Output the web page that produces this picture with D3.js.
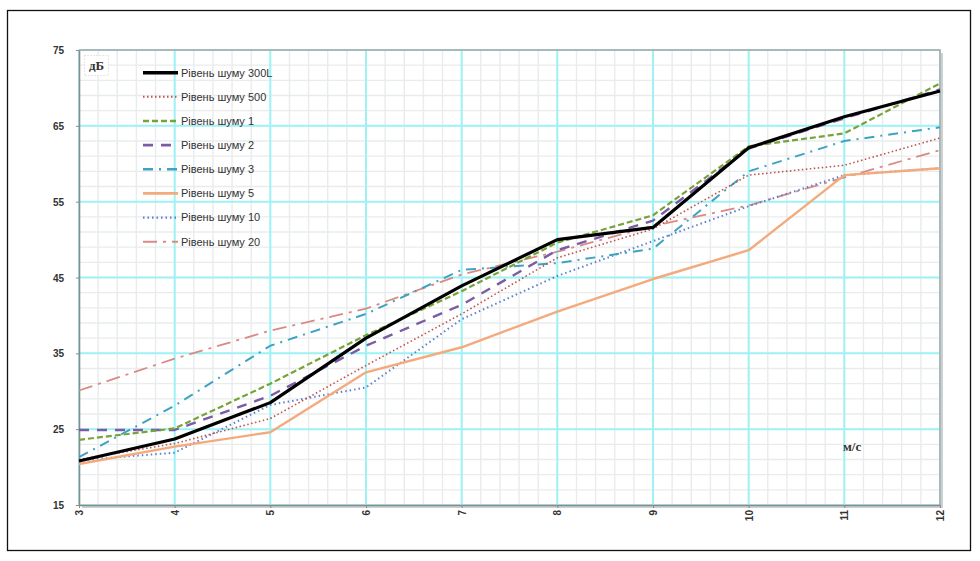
<!DOCTYPE html>
<html>
<head>
<meta charset="utf-8">
<script src="https://cdn.jsdelivr.net/npm/d3@7/dist/d3.min.js"></script>
<style>
  html, body { margin: 0; padding: 0; background: #fff; }
  svg { display: block; }
</style>
</head>
<body>
<svg id="chart" width="980" height="561"></svg>
<script>
// Wind speed, m/s
const speeds = [3, 4, 5, 6, 7, 8, 9, 10, 11, 12];

// Noise level, dB, for each turbine type
const level300L = [20.8, 23.7, 28.5, 37.0, 43.9, 50.0, 51.6, 62.1, 66.2, 69.6];
const level500  = [21.0, 23.1, 26.4, 33.4, 40.2, 47.6, 51.4, 58.5, 59.8, 63.4];
const level1    = [23.6, 25.1, 31.0, 37.4, 43.2, 49.6, 53.2, 62.3, 64.0, 70.6];
const level2    = [24.9, 24.9, 29.4, 36.0, 41.4, 48.6, 52.5, 62.0, 66.0, 69.8];
const level3    = [21.3, 28.1, 36.0, 40.2, 46.0, 46.9, 48.8, 59.0, 63.0, 64.8];
const level5    = [20.4, 22.7, 24.6, 32.5, 35.8, 40.5, 44.8, 48.6, 58.5, 59.4];
const level10   = [20.9, 21.9, 28.2, 30.5, 39.5, 45.2, 49.8, 54.4, 58.5, 59.4];
const level20   = [30.1, 34.3, 38.0, 40.9, 45.4, 48.4, 51.8, 54.5, 58.2, 61.8];

const seriesNames = ["Рівень шуму 300L", "Рівень шуму 500", "Рівень шуму 1", "Рівень шуму 2",
                     "Рівень шуму 3", "Рівень шуму 5", "Рівень шуму 10", "Рівень шуму 20"];
const seriesValues = [level300L, level500, level1, level2, level3, level5, level10, level20];

const yTicks = [15, 25, 35, 45, 55, 65, 75];
const xTicks = [3, 4, 5, 6, 7, 8, 9, 10, 11, 12];

// Line styling per series
const styles = [
  { color: "#000000", width: 3.2, dash: null },
  { color: "#c0504d", width: 1.6, dash: "1.5,2.5" },
  { color: "#77a33a", width: 2.2, dash: "6,3" },
  { color: "#7a5ca6", width: 2.4, dash: "10,8" },
  { color: "#3ea3c2", width: 2,   dash: "10,6,2,6" },
  { color: "#f3aa7c", width: 2.4, dash: null },
  { color: "#5c80cf", width: 2,   dash: "1.5,3" },
  { color: "#d98a84", width: 1.8, dash: "14,6,3,6" }
];

const svg = d3.select("#chart");
const plotLeft = 79, plotRight = 940, plotTop = 50, plotBottom = 505;

const x = d3.scaleLinear().domain([3, 12]).range([plotLeft, plotRight]);
const y = d3.scaleLinear().domain([15, 75]).range([plotBottom, plotTop]);

// Outer frame
svg.append("rect")
  .attr("x", 7.5).attr("y", 10.5).attr("width", 963).attr("height", 540)
  .attr("fill", "#fff").attr("stroke", "#111").attr("stroke-width", 1.3);

// Plot area shadow and background
svg.append("rect")
  .attr("x", plotLeft + 3).attr("y", plotTop + 3)
  .attr("width", plotRight - plotLeft).attr("height", plotBottom - plotTop)
  .attr("fill", "#cfcfcf");
svg.append("rect")
  .attr("x", plotLeft).attr("y", plotTop)
  .attr("width", plotRight - plotLeft).attr("height", plotBottom - plotTop)
  .attr("fill", "#fff");

// Minor grid
const minorX = d3.range(3, 12.0001, 0.2).map(v => +v.toFixed(1));
const minorY = d3.range(15, 75.0001, 2);
const grid = svg.append("g");
grid.selectAll(".mx").data(minorX).join("line")
  .attr("x1", d => x(d)).attr("x2", d => x(d)).attr("y1", plotTop).attr("y2", plotBottom)
  .attr("stroke", "#e9ecec").attr("stroke-width", 1.4);
grid.selectAll(".my").data(minorY).join("line")
  .attr("x1", plotLeft).attr("x2", plotRight).attr("y1", d => y(d)).attr("y2", d => y(d))
  .attr("stroke", "#e9ecec").attr("stroke-width", 1.4);

// Major grid
grid.selectAll(".Mx").data(xTicks).join("line")
  .attr("x1", d => x(d)).attr("x2", d => x(d)).attr("y1", plotTop).attr("y2", plotBottom)
  .attr("stroke", "#9ef2f6").attr("stroke-width", 2);
grid.selectAll(".My").data(yTicks).join("line")
  .attr("x1", plotLeft).attr("x2", plotRight).attr("y1", d => y(d)).attr("y2", d => y(d))
  .attr("stroke", "#9ef2f6").attr("stroke-width", 2);

// Plot border (top/right)
svg.append("path")
  .attr("d", `M${plotLeft},${plotTop}H${plotRight}V${plotBottom}`)
  .attr("fill", "none").attr("stroke", "#a8a8a8").attr("stroke-width", 1.5);

// Axes
const yAxis = svg.append("g").attr("transform", `translate(${plotLeft},0)`)
  .call(d3.axisLeft(y).tickValues(yTicks).tickSize(3).tickSizeOuter(0).tickPadding(12));
const xAxis = svg.append("g").attr("transform", `translate(0,${plotBottom})`)
  .call(d3.axisBottom(x).tickValues(xTicks).tickSize(3).tickSizeOuter(0));

[yAxis, xAxis].forEach(a => {
  a.select(".domain").attr("stroke", "#8a8a8a").attr("stroke-width", 1.6);
  a.selectAll(".tick line").attr("stroke", "#8a8a8a");
  a.selectAll("text").attr("fill", "#333").attr("font-family", "Liberation Sans, Arial, sans-serif")
    .attr("font-weight", "bold").attr("font-size", 10);
});
yAxis.selectAll("text").attr("dy", "0.35em");
xAxis.selectAll("text")
  .attr("transform", "rotate(-90)")
  .attr("text-anchor", "end")
  .attr("x", -5).attr("y", 0).attr("dy", "0.35em");

// Series lines
const line = d3.line().x((d, i) => x(speeds[i])).y(d => y(d));
const linesG = svg.append("g");
// draw in reverse so the black reference line sits on top
seriesValues.map((vals, i) => ({ vals, i })).reverse().forEach(({ vals, i }) => {
  const s = styles[i];
  linesG.append("path")
    .datum(vals)
    .attr("d", line)
    .attr("fill", "none")
    .attr("stroke", s.color)
    .attr("stroke-width", s.width)
    .attr("stroke-dasharray", s.dash)
    .attr("stroke-linejoin", "round");
});

// Legend
const legend = svg.append("g");
seriesNames.forEach((name, i) => {
  const s = styles[i];
  const ly = 72.7 + i * 24.15;
  legend.append("line")
    .attr("x1", 143).attr("x2", 178).attr("y1", ly).attr("y2", ly)
    .attr("stroke", s.color).attr("stroke-width", i === 0 ? 3.5 : s.width + 0.4)
    .attr("stroke-dasharray", s.dash);
  legend.append("text")
    .attr("x", 181).attr("y", ly).attr("dy", "0.35em")
    .attr("font-family", "Liberation Sans, Arial, sans-serif").attr("font-size", 11)
    .attr("fill", "#333").text(name);
});

// Unit labels
svg.append("rect")
  .attr("x", 84.5).attr("y", 55.5).attr("width", 24).attr("height", 20)
  .attr("fill", "#fff").attr("stroke", "#ccc").attr("stroke-dasharray", "1,2");
svg.append("text")
  .attr("x", 96.5).attr("y", 70).attr("text-anchor", "middle")
  .attr("font-family", "Liberation Serif, Times New Roman, serif").attr("font-weight", "bold")
  .attr("font-size", 13).attr("fill", "#333").text("дБ");
svg.append("text")
  .attr("x", 843).attr("y", 451)
  .attr("font-family", "Liberation Serif, Times New Roman, serif").attr("font-weight", "bold")
  .attr("font-size", 13).attr("fill", "#333").text("м/с");
</script>
</body>
</html>
